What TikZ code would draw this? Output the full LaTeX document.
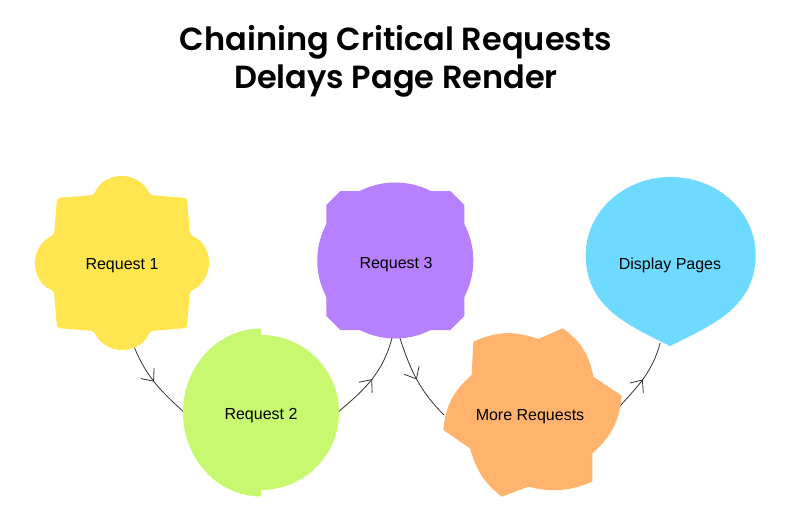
\documentclass[tikz,border=0pt]{standalone}
\usepackage{fontspec}
\setmainfont{Liberation Sans}
\newfontfamily\titlefont{Poppins SemiBold}
\usetikzlibrary{arrows.meta,decorations.markings}
\definecolor{ycol}{HTML}{FFE54F}
\definecolor{gcol}{HTML}{C8F870}
\definecolor{pcol}{HTML}{B680FF}
\definecolor{ocol}{HTML}{FFB36D}
\definecolor{bcol}{HTML}{6EDAFF}
\definecolor{linecol}{HTML}{333333}
\pgfdeclarelayer{lines}
\pgfdeclarelayer{shapes}
\pgfsetlayers{lines,shapes,main}
\begin{document}
\begin{tikzpicture}[x=1pt,y=-1pt,
  lbl/.style={circle, draw=none, inner sep=0pt, outer sep=0pt, text height=11.6pt, text depth=0pt,
    font=\fontsize{16}{19}\selectfont, text=black},
  conn/.style={draw=linecol, line width=0.8pt, postaction={decorate},
    decoration={markings, mark=at position 0.5 with {\arrow{Straight Barb[length=10pt,width=17pt,line width=0.8pt]}}}},
  ttl/.style={font=\titlefont\fontsize{32}{38}\selectfont, anchor=base, inner sep=0pt}
]
\useasboundingbox (0,0) rectangle (808,517);

% title
\node[ttl] (title1) at (396,50.7) {Chaining Critical Requests};
\node[ttl] (title2) at (396,88.7) {Delays Page Render};

% labelled nodes
\node[lbl, minimum size=166pt] (r1) at (122,263.3) {Request 1};
\node[lbl, minimum size=156pt] (r2) at (261,414) {Request 2};
\node[lbl, minimum size=150pt] (r3) at (396,263) {Request 3};
\node[lbl, minimum size=172pt] (mr) at (530,415) {More Requests};
\node[lbl, minimum size=160pt] (dp) at (670,263.3) {Display Pages};

\begin{pgfonlayer}{shapes}
% yellow: square with bumps
\begin{scope}[shift={(122,263)}]
\fill[ycol, rounded corners=3pt] (-28,-68) arc[start angle=201.4, end angle=338.6, radius=30]
  -- (65,-65) -- (68,-28) arc[start angle=-68.6, end angle=68.6, radius=30]
  -- (65,65) -- (28,68) arc[start angle=21.4, end angle=158.6, radius=30]
  -- (-65,65) -- (-68,28) arc[start angle=111.4, end angle=248.6, radius=30]
  -- (-65,-65) -- cycle;
\end{scope}
% green: two offset half discs
\fill[gcol] (261,328.5) arc[start angle=270, end angle=90, x radius=78, y radius=84]
  -- (261,490) arc[start angle=90, end angle=-90, x radius=78, y radius=77.5] -- cycle;
% purple: disc joined with a chamfered square
\fill[pcol] (395.3,260.5) circle[radius=78];
\fill[pcol] (340.3,191) -- (450.3,191) -- (464.3,205) -- (464.3,316)
  -- (450.3,330) -- (340.3,330) -- (326.3,316) -- (326.3,205) -- cycle;
% orange: six-bladed pinwheel
\fill[ocol] (562.7,328.3) to[bend left=22] (593.3,376.7) -- (621.7,395.7)
  to[bend left=22] (592.3,453.3) -- (592.3,481.7)
  to[bend left=18] (528.3,486.7) -- (501.7,496.7)
  to[bend left=18] (470,448.3) -- (443.3,430)
  to[bend left=22] (471.7,375) -- (473.3,341.7)
  to[bend left=22] (538.3,339) -- cycle;
% blue: drop
\fill[bcol] (670,346) .. controls (630,326) and (585.7,308) .. (585.7,255)
  arc[start angle=180, end angle=360, x radius=85, y radius=78]
  .. controls (755.7,308) and (710,326) .. (670,346) -- cycle;
\end{pgfonlayer}

\begin{pgfonlayer}{lines}
\draw[conn] (r1.-82) to[out=-68, in=138] (r2.178);
\draw[conn] (r2.2) to[out=40, in=255] (r3.-93.5);
\draw[conn] (r3.-87.8) to[out=-72, in=135] (mr.180);
\draw[conn] (mr.3) to[out=48, in=255] (dp.-97);
\end{pgfonlayer}
\end{tikzpicture}
\end{document}
